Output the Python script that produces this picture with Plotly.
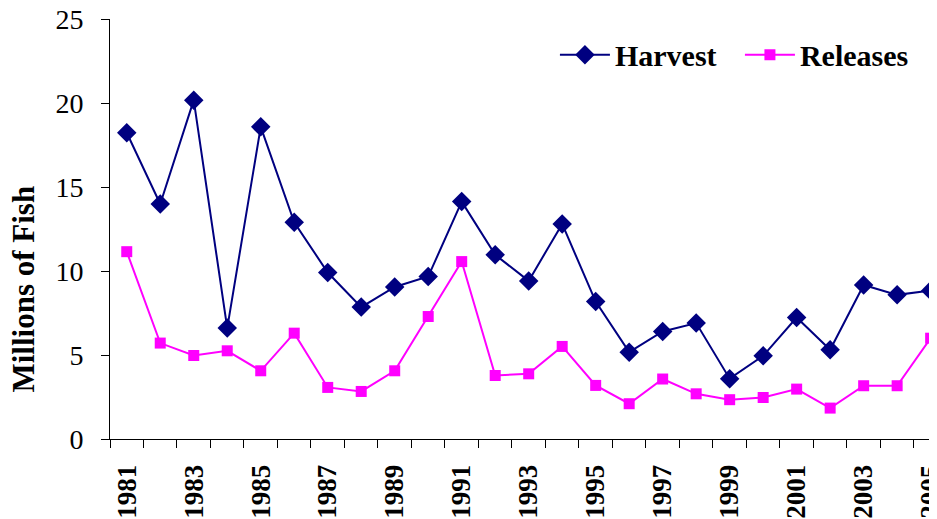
import plotly.graph_objects as go

years = list(range(1981, 2006))
harvest = [18.23, 13.99, 20.17, 6.60, 18.58, 12.90, 9.91, 7.85, 9.05, 9.67,
           14.13, 10.96, 9.41, 12.80, 8.18, 5.17, 6.40, 6.90, 3.59, 4.95,
           7.23, 5.31, 9.17, 8.58, 8.83]
releases = [11.15, 5.71, 4.97, 5.25, 4.06, 6.30, 3.07, 2.83, 4.06, 7.29,
            10.56, 3.78, 3.88, 5.51, 3.19, 2.10, 3.57, 2.69, 2.34, 2.47,
            2.97, 1.84, 3.17, 3.17, 6.00]
y_ticks = [0, 5, 10, 15, 20, 25]
x_ticks = list(range(1981, 2006, 2))
y_title = "Millions of Fish"

FONT = "Liberation Serif, Times New Roman, serif"

fig = go.Figure()
fig.add_trace(go.Scatter(
    x=years, y=harvest, name="<b>Harvest</b>", mode="lines+markers",
    line=dict(color="#000080", width=2),
    marker=dict(symbol="diamond", size=15, color="#000080"),
))
fig.add_trace(go.Scatter(
    x=years, y=releases, name="<b>Releases</b>", mode="lines+markers",
    line=dict(color="#FF00FF", width=2),
    marker=dict(symbol="square", size=11, color="#FF00FF"),
))

fig.update_layout(
    width=929, height=511,
    margin=dict(l=102, r=0, t=11, b=80, autoexpand=False),
    paper_bgcolor="white", plot_bgcolor="white",
    font=dict(family=FONT, color="black", size=28),
    showlegend=True,
    legend=dict(
        orientation="h", x=0.538, xanchor="left", y=0.915, yanchor="middle",
        font=dict(family=FONT, size=30, color="black"),
        bgcolor="rgba(0,0,0,0)", itemwidth=50, tracegroupgap=0,
        entrywidth=120, entrywidthmode="pixels",
    ),
    xaxis=dict(
        range=[1980.5, 2005.19], showgrid=False, zeroline=False,
        showline=True, linecolor="black", linewidth=1, automargin=False,
        tickmode="array", tickvals=x_ticks,
        ticktext=[f"<b>{y}</b>" for y in x_ticks],
        ticks="", tickangle=-90, ticklabelstandoff=14,
        ticklabeloverflow="allow",
        tickfont=dict(family=FONT, size=27, color="black"),
        minor=dict(ticks="outside", tick0=1980.5, dtick=1, ticklen=8,
                   tickcolor="black", tickwidth=1, showgrid=False),
    ),
    yaxis=dict(
        range=[0, 25], showgrid=False, zeroline=False,
        showline=True, linecolor="black", linewidth=1, automargin=False,
        tickmode="array", tickvals=y_ticks,
        ticks="outside", ticklen=8, tickcolor="black",
        ticklabelstandoff=12, ticklabeloverflow="allow",
        tickfont=dict(family=FONT, size=28, color="black"),
    ),
    annotations=[dict(
        text=f"<b>{y_title}</b>", xref="paper", yref="paper",
        x=0, y=0.357, xanchor="center", yanchor="middle", xshift=-86.5,
        textangle=-90, showarrow=False,
        font=dict(family=FONT, size=31, color="black"),
    )],
)

fig.write_html("out.html")
